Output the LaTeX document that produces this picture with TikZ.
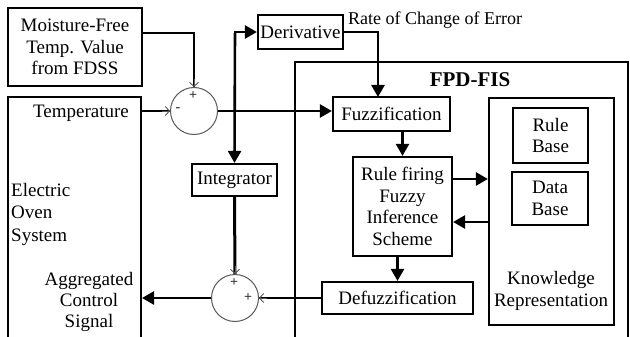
\documentclass[tikz,border=0pt]{standalone}
\usepackage{fontspec}
\setmainfont{Liberation Serif}
\usetikzlibrary{arrows.meta,calc}
\newcommand\figfont{\fontsize{19}{21.7}\selectfont}
\begin{document}
\begin{tikzpicture}[x=1pt,y=-1pt,
  box/.style={draw,line width=2.2pt,inner sep=0pt,align=center,font=\figfont},
  frame/.style={draw,line width=2pt,inner sep=0pt},
  txt/.style={inner sep=0pt,align=center,font=\figfont},
  sum/.style={circle,draw=black!65,line width=1pt,minimum size=47pt,inner sep=0pt},
  sign/.style={inner sep=0pt,font=\fontsize{14}{14}\selectfont\bfseries,text=black!80},
  arr/.style={line width=2.6pt,-{Triangle[length=12pt,width=13pt]}},
  barb/.style={draw=black!65,line width=0.9pt,-{Straight Barb[length=4pt,width=9pt]}}]
\clip (0,0) rectangle (630,337);
\fill[white] (0,0) rectangle (630,337);
% outer frames
\node[frame,minimum width=133pt,minimum height=263pt] (oven) at (74.5,228.5) {};
\node[frame,minimum width=333pt,minimum height=296pt] (fpd) at (461.5,210) {};
% boxes
\node[box,minimum width=134pt,minimum height=78pt] (moist) at (75,47) {Moisture-Free\\Temp. Value\\from FDSS};
\node[box,minimum width=85pt,minimum height=34pt] (deriv) at (300.5,32) {Derivative};
\node[box,minimum width=85pt,minimum height=32pt] (integ) at (234.5,180) {Integrator};
\node[box,minimum width=117pt,minimum height=34pt] (fuzz) at (391.5,114) {Fuzzification};
\node[box,minimum width=99pt,minimum height=99pt] (rule) at (402.5,206.5) {Rule firing\\Fuzzy\\Inference\\Scheme};
\node[box,minimum width=151pt,minimum height=32pt] (defuzz) at (397.5,298) {Defuzzification};
\node[box,minimum width=125pt,minimum height=227pt] (know) at (551.5,211.5) {};
\node[box,minimum width=75pt,minimum height=55pt] (rbase) at (550.5,135.5) {Rule\\Base};
\node[box,minimum width=76pt,minimum height=53pt] (dbase) at (550,198.5) {Data\\Base};
% labels
\node[txt] (temp) at (81,113) {Temperature};
\node[txt,align=left,anchor=west,font=\fontsize{19}{22.5}\selectfont] (eos) at (11,214) {Electric\\Oven\\System};
\node[txt,font=\fontsize{19}{21}\selectfont] (acs) at (89,302) {Aggregated\\Control\\Signal};
\node[txt,font=\fontsize{19}{22}\selectfont] (krep) at (551,291) {Knowledge\\Representation};
\node[txt,anchor=west,font=\fontsize{18}{18}\selectfont] (rate) at (348,20) {Rate of Change of Error};
\node[txt,font=\fontsize{21}{21}\selectfont\bfseries] (fpdlab) at (470,80) {FPD-FIS};
% summing junctions
\node[sum] (s1) at (194,111) {};
\node[sum] (s2) at (235,298) {};
\node[sign] (s1p) at (193,96) {+};
\node[sign] (s1m) at (178,110) {-};
\node[sign] (s2p1) at (234,283) {+};
\node[sign] (s2p2) at (248,298) {+};
% connectors
\coordinate (mo) at (142,33);
\draw[line width=2.8pt] (mo) -| (s1.north);
\draw[barb] ($(s1.north)+(0,-8)$) -- (s1.north);
\draw[line width=2.8pt] (s1.west -| oven.east) -- (s1.west);
\draw[barb] ($(s1.west)+(-8,0)$) -- (s1.west);
\draw[arr] (s1.east) -- (s1.east -| fuzz.west);
\coordinate (br) at (235,33);
\draw[arr] (br) -- (br |- deriv.west) -- (deriv.west);
\draw[arr] (br) -- (integ.north);
\coordinate (fzin) at (378,97);
\draw[arr] (deriv.east) -| (fzin);
\draw[arr] (fuzz.south -| rule.north) -- (rule.north);
\coordinate (r1) at ($(rule.east)+(0,-27.5)$);
\coordinate (r2) at ($(rule.east)+(0,15.5)$);
\draw[arr] (r1) -- (r1 -| know.west);
\draw[arr] (r2 -| know.west) -- (r2);
\draw[arr] (rule.south -| defuzz.north) -- (defuzz.north);
\draw[line width=2.8pt] (defuzz.west) -- (s2.east);
\draw[barb] ($(s2.east)+(8,0)$) -- (s2.east);
\draw[line width=3pt] (integ.south) -- (s2.north);
\draw[barb] ($(s2.north)+(0,-8)$) -- (s2.north);
\draw[arr] (s2.west) -- (s2.west -| oven.east);
\end{tikzpicture}
\end{document}
